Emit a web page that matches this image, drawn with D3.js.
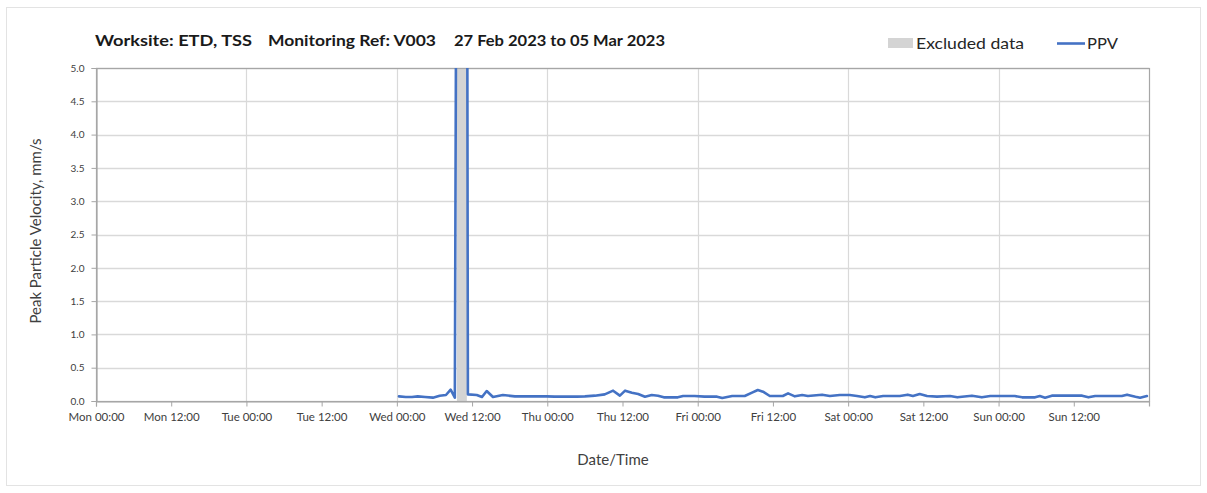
<!DOCTYPE html>
<html>
<head>
<meta charset="utf-8">
<script src="https://cdn.jsdelivr.net/npm/d3@7"></script>
<style>
  html, body { margin: 0; padding: 0; background: #ffffff; }
  svg { display: block; font-family: Lato, "Open Sans", sans-serif; }
</style>
</head>
<body>
<svg id="chart" width="1207" height="493"></svg>
<script>
// Chart period (Mon 27 Feb 2023 to Mon 06 Mar 2023, 00:00)
const periodStart = "2023-02-27 00:00";
const periodEnd = "2023-03-06 00:00";

// Excluded data window
const excludedStart = "2023-03-01 09:35";
const excludedEnd = "2023-03-01 11:10";

// PPV readings (mm/s); null marks the excluded gap
const ppvTimes = [
  "2023-03-01 00:20", "2023-03-01 01:25", "2023-03-01 02:25", "2023-03-01 03:20",
  "2023-03-01 04:30", "2023-03-01 05:45", "2023-03-01 06:50", "2023-03-01 07:50",
  "2023-03-01 08:35", "2023-03-01 09:15", "2023-03-01 09:35", "2023-03-01 10:20",
  "2023-03-01 11:10", "2023-03-01 11:20", "2023-03-01 12:45", "2023-03-01 13:35",
  "2023-03-01 14:20", "2023-03-01 15:20", "2023-03-01 16:55", "2023-03-01 18:50",
  "2023-03-01 21:10", "2023-03-01 23:55", "2023-03-02 01:10", "2023-03-02 04:45",
  "2023-03-02 06:00", "2023-03-02 07:35", "2023-03-02 09:10", "2023-03-02 10:30",
  "2023-03-02 11:35", "2023-03-02 12:25", "2023-03-02 13:30", "2023-03-02 14:30",
  "2023-03-02 15:35", "2023-03-02 16:40", "2023-03-02 17:40", "2023-03-02 18:35",
  "2023-03-02 20:50", "2023-03-02 21:40", "2023-03-02 23:30", "2023-03-03 01:05",
  "2023-03-03 03:05", "2023-03-03 03:55", "2023-03-03 05:30", "2023-03-03 07:30",
  "2023-03-03 08:40", "2023-03-03 09:35", "2023-03-03 10:25", "2023-03-03 11:30",
  "2023-03-03 13:35", "2023-03-03 14:25", "2023-03-03 15:30", "2023-03-03 16:40",
  "2023-03-03 17:35", "2023-03-03 19:50", "2023-03-03 21:05", "2023-03-03 22:40",
  "2023-03-04 00:15", "2023-03-04 01:25", "2023-03-04 02:40", "2023-03-04 03:30",
  "2023-03-04 04:20", "2023-03-04 05:35", "2023-03-04 08:15", "2023-03-04 09:30",
  "2023-03-04 10:20", "2023-03-04 11:25", "2023-03-04 12:35", "2023-03-04 14:10",
  "2023-03-04 16:15", "2023-03-04 17:25", "2023-03-04 18:10", "2023-03-04 19:45",
  "2023-03-04 21:20", "2023-03-04 22:40", "2023-03-05 02:35", "2023-03-05 03:45",
  "2023-03-05 05:50", "2023-03-05 06:35", "2023-03-05 07:25", "2023-03-05 08:30",
  "2023-03-05 13:20", "2023-03-05 14:20", "2023-03-05 15:25", "2023-03-05 19:40",
  "2023-03-05 20:30", "2023-03-05 21:50", "2023-03-05 22:35", "2023-03-05 23:40"
];
const ppvValues = [
  0.07, 0.06, 0.06, 0.07,
  0.06, 0.05, 0.08, 0.09,
  0.17, 0.05, 9.8, null,
  9.8, 0.10, 0.09, 0.06,
  0.15, 0.06, 0.09, 0.07,
  0.07, 0.07, 0.065, 0.065,
  0.07, 0.08, 0.10, 0.155,
  0.08, 0.155, 0.125, 0.105,
  0.065, 0.09, 0.08, 0.055,
  0.055, 0.075, 0.075, 0.065,
  0.065, 0.045, 0.075, 0.075,
  0.125, 0.165, 0.14, 0.075,
  0.075, 0.115, 0.07, 0.09,
  0.075, 0.095, 0.075, 0.09,
  0.09, 0.075, 0.055, 0.075,
  0.055, 0.075, 0.075, 0.095,
  0.075, 0.105, 0.075, 0.065,
  0.075, 0.055, 0.065, 0.08,
  0.055, 0.075, 0.075, 0.055,
  0.055, 0.075, 0.05, 0.08,
  0.08, 0.055, 0.075, 0.075,
  0.095, 0.065, 0.05, 0.075
];

// Axis settings
const yTickValues = [0, 0.5, 1, 1.5, 2, 2.5, 3, 3.5, 4, 4.5, 5];
const titleParts = ["Worksite: ETD, TSS", "Monitoring Ref: V003", "27 Feb 2023 to 05 Mar 2023"];
const legendLabels = ["Excluded data", "PPV"];
const yAxisTitle = "Peak Particle Velocity, mm/s";
const xAxisTitle = "Date/Time";

const parse = d3.timeParse("%Y-%m-%d %H:%M");
const data = ppvTimes.map((t, i) => ({ t: parse(t), v: ppvValues[i] }));

const svg = d3.select("#chart");
const W = 1207, H = 493;
const m = { left: 96, right: 1149, top: 68, bottom: 401 };

const x = d3.scaleTime().domain([parse(periodStart), parse(periodEnd)]).range([m.left, m.right]);
const y = d3.scaleLinear().domain([0, 5]).range([m.bottom, m.top]);

const gridColor = "#d9d9d9";
const axisColor = "#a6a6a6";
const textColor = "#404040";
const lineColor = "#4472c4";

// Outer frame
svg.append("rect")
  .attr("x", 6.5).attr("y", 7.5).attr("width", W - 13).attr("height", H - 15)
  .attr("fill", "#ffffff").attr("stroke", "#e3e3e3");

// Horizontal gridlines
svg.append("g").selectAll("line").data(yTickValues.slice(1)).join("line")
  .attr("x1", m.left).attr("x2", m.right)
  .attr("y1", d => Math.round(y(d)) + 0.5).attr("y2", d => Math.round(y(d)) + 0.5)
  .attr("stroke", gridColor).attr("stroke-width", 1.5);

// Vertical gridlines at each midnight
const days = d3.timeDay.range(d3.timeDay.offset(parse(periodStart), 1), parse(periodEnd));
svg.append("g").selectAll("line").data(days).join("line")
  .attr("x1", d => Math.round(x(d)) + 0.5).attr("x2", d => Math.round(x(d)) + 0.5)
  .attr("y1", m.top).attr("y2", m.bottom)
  .attr("stroke", gridColor).attr("stroke-width", 1.2);

// Excluded data band
svg.append("rect")
  .attr("x", x(parse(excludedStart)))
  .attr("width", x(parse(excludedEnd)) - x(parse(excludedStart)))
  .attr("y", m.top).attr("height", m.bottom - m.top)
  .attr("fill", "#d4d4d4");

// Plot frame
svg.append("rect")
  .attr("x", m.left + 0.5).attr("y", m.top + 0.5)
  .attr("width", m.right - m.left).attr("height", m.bottom - m.top)
  .attr("fill", "none").attr("stroke", axisColor).attr("stroke-width", 1.2);

// Clip region for the series
svg.append("clipPath").attr("id", "plotClip").append("rect")
  .attr("x", m.left).attr("y", m.top).attr("width", m.right - m.left).attr("height", m.bottom - m.top);

const line = d3.line()
  .defined(d => d.v !== null)
  .x(d => x(d.t)).y(d => y(d.v));

svg.append("path").datum(data)
  .attr("clip-path", "url(#plotClip)")
  .attr("d", line)
  .attr("fill", "none").attr("stroke", lineColor).attr("stroke-width", 2.6)
  .attr("stroke-linejoin", "round").attr("stroke-linecap", "round");

// Y axis
const yAxis = d3.axisLeft(y).tickValues(yTickValues).tickFormat(d3.format(".1f")).tickSize(5).tickPadding(7);
const gy = svg.append("g").attr("transform", `translate(${m.left + 0.5},0)`).call(yAxis);
gy.select(".domain").attr("stroke", axisColor).attr("stroke-width", 1.2);
gy.selectAll(".tick line").attr("stroke", axisColor);
gy.selectAll(".tick text").attr("fill", textColor).attr("font-size", 10).attr("font-family", "Lato");

// X axis
const xTicks = d3.timeHour.every(12).range(parse(periodStart), parse(periodEnd));
const xAxis = d3.axisBottom(x).tickValues(xTicks).tickFormat(d3.timeFormat("%a %H:%M")).tickSize(5).tickPadding(6);
const gx = svg.append("g").attr("transform", `translate(0,${m.bottom + 0.5})`).call(xAxis);
gx.select(".domain").attr("stroke", axisColor).attr("stroke-width", 1.2);
gx.selectAll(".tick line").attr("stroke", axisColor);
gx.selectAll(".tick text").attr("fill", textColor).attr("font-size", 11.5).attr("font-family", "Lato");

// Axis titles
svg.append("text")
  .attr("transform", "translate(41,231) rotate(-90)")
  .attr("text-anchor", "middle")
  .attr("fill", textColor).attr("font-size", 15)
  .text(yAxisTitle);
svg.append("text")
  .attr("x", 613).attr("y", 465).attr("text-anchor", "middle")
  .attr("fill", textColor).attr("font-size", 15)
  .text(xAxisTitle);

// Title, in three parts
const titleX = [95, 268, 454];
const titleW = [157, 168, 211];
svg.append("g").selectAll("text").data(titleParts).join("text")
  .attr("x", (d, i) => titleX[i]).attr("y", 46)
  .attr("font-weight", "bold").attr("font-size", 16).attr("fill", "#1a1a1a")
  .attr("textLength", (d, i) => titleW[i]).attr("lengthAdjust", "spacingAndGlyphs")
  .text(d => d);

// Legend
svg.append("rect").attr("x", 888).attr("y", 38).attr("width", 25).attr("height", 10).attr("fill", "#d4d4d4");
svg.append("text").attr("x", 916).attr("y", 49).attr("font-size", 15).attr("fill", "#262626")
  .attr("textLength", 108).attr("lengthAdjust", "spacingAndGlyphs").text(legendLabels[0]);
svg.append("line").attr("x1", 1057).attr("x2", 1085).attr("y1", 43.5).attr("y2", 43.5)
  .attr("stroke", lineColor).attr("stroke-width", 2.6);
svg.append("text").attr("x", 1087).attr("y", 49).attr("font-size", 15).attr("fill", "#262626")
  .attr("textLength", 31).attr("lengthAdjust", "spacingAndGlyphs").text(legendLabels[1]);
</script>
</body>
</html>
